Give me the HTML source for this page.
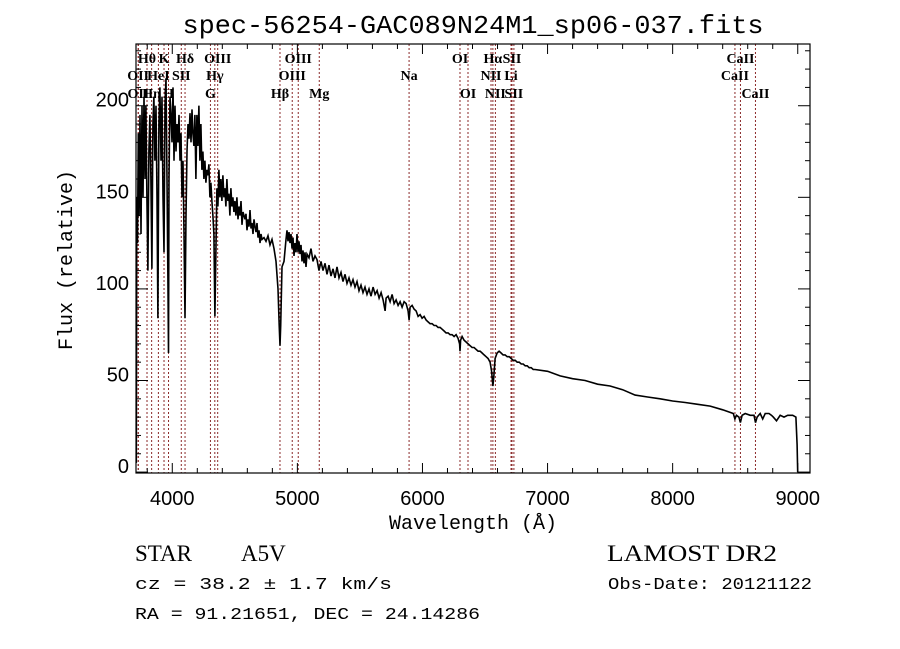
<!DOCTYPE html>
<html><head><meta charset="utf-8"><style>
body{margin:0;background:#fff}
svg{display:block}
text{fill:#000}
</style></head><body>
<svg id="c" width="900" height="649" viewBox="0 0 900 649" xmlns="http://www.w3.org/2000/svg">
<rect width="900" height="649" fill="#fff"/>
<text x="473" y="33" text-anchor="middle" font-family="Liberation Mono, monospace" font-size="26" textLength="581" lengthAdjust="spacingAndGlyphs">spec-56254-GAC089N24M1_sp06-037.fits</text>
<g id="lines"></g>
<g id="labels" font-family="Liberation Serif, serif" font-weight="bold" font-size="14" text-anchor="middle"></g>
<g id="ticks"></g>
<path id="spec" fill="none" stroke="#000" stroke-width="1.6" stroke-linejoin="miter"/>
<rect x="136" y="44" width="674" height="429" fill="none" stroke="#000" stroke-width="1.2"/>
<text transform="translate(72,260) rotate(-90)" text-anchor="middle" font-family="Liberation Mono, monospace" font-size="20">Flux (relative)</text>
<text x="473" y="529" text-anchor="middle" font-family="Liberation Mono, monospace" font-size="20">Wavelength (Å)</text>
<text x="135" y="561" font-family="Liberation Serif, serif" font-size="23">STAR</text>
<text x="241" y="561" font-family="Liberation Serif, serif" font-size="23">A5V</text>
<text x="607" y="561" font-family="Liberation Serif, serif" font-size="23" textLength="170" lengthAdjust="spacingAndGlyphs">LAMOST DR2</text>
<text x="135" y="589" font-family="Liberation Mono, monospace" font-size="17" textLength="257" lengthAdjust="spacingAndGlyphs">cz = 38.2 ± 1.7 km/s</text>
<text x="608" y="589" font-family="Liberation Mono, monospace" font-size="17" textLength="204" lengthAdjust="spacingAndGlyphs">Obs-Date: 20121122</text>
<text x="135" y="619" font-family="Liberation Mono, monospace" font-size="17" textLength="345" lengthAdjust="spacingAndGlyphs">RA =  91.21651, DEC =  24.14286</text>
</svg>
<script>
const waves=[3712,3716,3722,3728,3735,3742,3750,3758,3766,3774,3782,3789,3797,3805,3813,3821,3829,3837,3845,3853,3861,3870,3878,3885,3893,3901,3910,3918,3926,3934,3942,3950,3958,3966,3970,3974,3982,3990,3998,4006,4014,4022,4030,4038,4046,4054,4062,4070,4078,4086,4094,4102,4110,4118,4126,4134,4142,4150,4158,4165,4173,4181,4189,4197,4205,4213,4221,4229,4237,4245,4253,4261,4269,4277,4285,4293,4301,4309,4317,4325,4333,4341,4349,4357,4365,4373,4381,4389,4397,4405,4413,4421,4429,4437,4445,4453,4461,4469,4477,4485,4493,4501,4509,4517,4525,4533,4541,4549,4557,4565,4573,4581,4589,4597,4605,4613,4621,4629,4637,4645,4653,4661,4669,4677,4685,4693,4701,4709,4717,4733,4749,4765,4781,4797,4813,4829,4845,4855,4861,4867,4877,4893,4909,4917,4925,4933,4941,4949,4957,4965,4973,4981,4989,4997,5005,5013,5021,5029,5037,5045,5053,5061,5069,5077,5093,5109,5125,5141,5157,5173,5189,5205,5221,5237,5253,5269,5285,5301,5317,5333,5349,5365,5381,5397,5413,5429,5445,5461,5477,5493,5509,5525,5541,5557,5573,5589,5605,5621,5637,5653,5669,5685,5701,5709,5725,5741,5757,5773,5789,5805,5821,5837,5853,5869,5885,5893,5901,5917,5933,5949,5965,5981,5997,6013,6029,6045,6061,6077,6093,6109,6125,6141,6157,6173,6189,6205,6221,6237,6253,6269,6285,6297,6300,6305,6317,6333,6349,6365,6381,6397,6413,6429,6445,6461,6477,6493,6509,6525,6541,6553,6563,6570,6581,6597,6613,6629,6645,6661,6677,6693,6709,6725,6741,6757,6773,6789,6805,6821,6837,6853,6869,6885,6900,7000,7100,7200,7300,7400,7500,7600,7700,7800,7900,8000,8100,8200,8300,8400,8485,8498,8510,8530,8542,8555,8580,8620,8650,8662,8675,8700,8720,8740,8770,8790,8805,8830,8860,8890,8920,8960,8985,8995,9000];
const fluxes=[5,150,125,185,140,195,130,200,150,205,160,200,150,110,175,195,160,111,190,205,170,200,150,84,190,210,170,205,150,120,200,215,160,100,65,160,205,195,180,210,170,200,175,190,180,195,170,185,150,170,130,84,140,175,190,182,196,180,198,185,178,195,160,195,178,200,170,190,165,175,160,170,158,165,162,168,150,158,148,140,130,85,120,155,145,165,150,160,148,162,150,155,145,160,148,152,140,155,145,150,142,148,140,150,138,145,140,148,135,142,140,138,141,132,138,134,143,133,136,130,138,134,131,136,128,132,125,130,127,128,126,129,124,127,122,115,100,80,69,80,112,115,127,132,126,131,125,130,122,128,118,125,120,130,120,126,119,124,115,121,114,120,112,119,117,122,115,118,116,110,115,110,114,108,113,107,111,106,112,106,109,104,108,103,106,102,105,101,104,99,102,98,101,97,100,96,101,97,99,95,98,94,88,95,96,93,97,92,94,91,93,90,93,92,88,83,90,91,89,88,85,86,84,85,83,82,81,81,80,80,79,79,78,77,76,76,75,75,74,75,73,70,66,72,74,72,71,70,69,68,68,67,66,66,65,64,63,62,60,55,47,52,62,65,66,65,64,64,63,63,62,61,61,60,60,59,59,58,58,57,57,56,56,55,52.5,51,50,48,47,45,42,41,40,38.8,38,37,36,34,32,29,31,30,27,31,32,31,31,27,30,32,29,32,32,31,30,28,31,30,31,31,30,15,0];
const markerWaves=[3727,3729,3798,3835,3889,3934,3970,4072,4102,4305,4340,4363,4861,4959,5007,5175,5893,6300,6364,6548,6563,6583,6708,6716,6731,8498,8542,8662];
const labelNames=["Hθ","K","Hδ","OIII","OIII","OI","Hα","SII","CaII","OII","HeI","SII","Hγ","OIII","Na","NII","Li","CaII","OII","Hη","H","G","Hβ","Mg","OI","NII","SII","CaII"];
const labelWaves=[3798,3934,4102,4363,5007,6300,6563,6716,8542,3727,3889,4072,4340,4959,5893,6548,6708,8498,3729,3835,3970,4305,4861,5175,6364,6583,6731,8662];
const labelRows=[0,0,0,0,0,0,0,0,0,1,1,1,1,1,1,1,1,1,2,2,2,2,2,2,2,2,2,2];
const xTicks=[4000,5000,6000,7000,8000,9000];
const yTicks=[0,50,100,150,200];
const X0=136,X1=810,Y0=44,Y1=473;
const wMin=3710,wMax=9098,fMin=-0.5,fMax=233.7;
const xs=w=>X0+(w-wMin)/(wMax-wMin)*(X1-X0);
const ys=f=>Y1-(f-fMin)/(fMax-fMin)*(Y1-Y0);
const NS="http://www.w3.org/2000/svg";
function mk(tag,attrs,parent){const e=document.createElementNS(NS,tag);for(const k in attrs)e.setAttribute(k,attrs[k]);parent.appendChild(e);return e;}
let d="";
waves.forEach((w,i)=>{d+=(i?"L":"M")+xs(w).toFixed(1)+","+ys(fluxes[i]).toFixed(1);});
document.getElementById('spec').setAttribute('d',d);
const lg=document.getElementById('lines');
markerWaves.forEach(w=>{
 const l=mk('line',{x1:xs(w),x2:xs(w),y1:Y0,y2:Y1,stroke:'#8b2a2a','stroke-width':1,'stroke-dasharray':'2,2'},lg);
 
 
});
const lb=document.getElementById('labels');
const rowY=[63,80,98];
labelNames.forEach((n,i)=>{
 const t=mk('text',{x:xs(labelWaves[i]),y:rowY[labelRows[i]]},lb);
 t.textContent=n;
 
 
});
const tg=document.getElementById('ticks');
for(let w=3800;w<=9000;w+=200){
 const major=w%1000===0,len=major?10:5,x=xs(w);
 mk('line',{x1:x,x2:x,y1:Y1,y2:Y1-len,stroke:'#000','stroke-width':1},tg);
 mk('line',{x1:x,x2:x,y1:Y0,y2:Y0+len,stroke:'#000','stroke-width':1},tg);
}
for(let f=0;f<=230;f+=10){
 const major=f%50===0,len=major?12:5,y=ys(f);
 mk('line',{x1:X0,x2:X0+len,y1:y,y2:y,stroke:'#000','stroke-width':1},tg);
 mk('line',{x1:X1,x2:X1-len,y1:y,y2:y,stroke:'#000','stroke-width':1},tg);
}
xTicks.forEach(w=>{
 const t=mk('text',{x:xs(w),y:505,'text-anchor':'middle','font-family':'Liberation Sans, sans-serif','font-size':'20'},tg);
 t.textContent=w;
 
 
});
yTicks.forEach(f=>{
 const t=mk('text',{x:129,y:ys(f)+1,'text-anchor':'end','font-family':'Liberation Sans, sans-serif','font-size':'20'},tg);
 t.textContent=f;
 
 
});
</script>
</body></html>
